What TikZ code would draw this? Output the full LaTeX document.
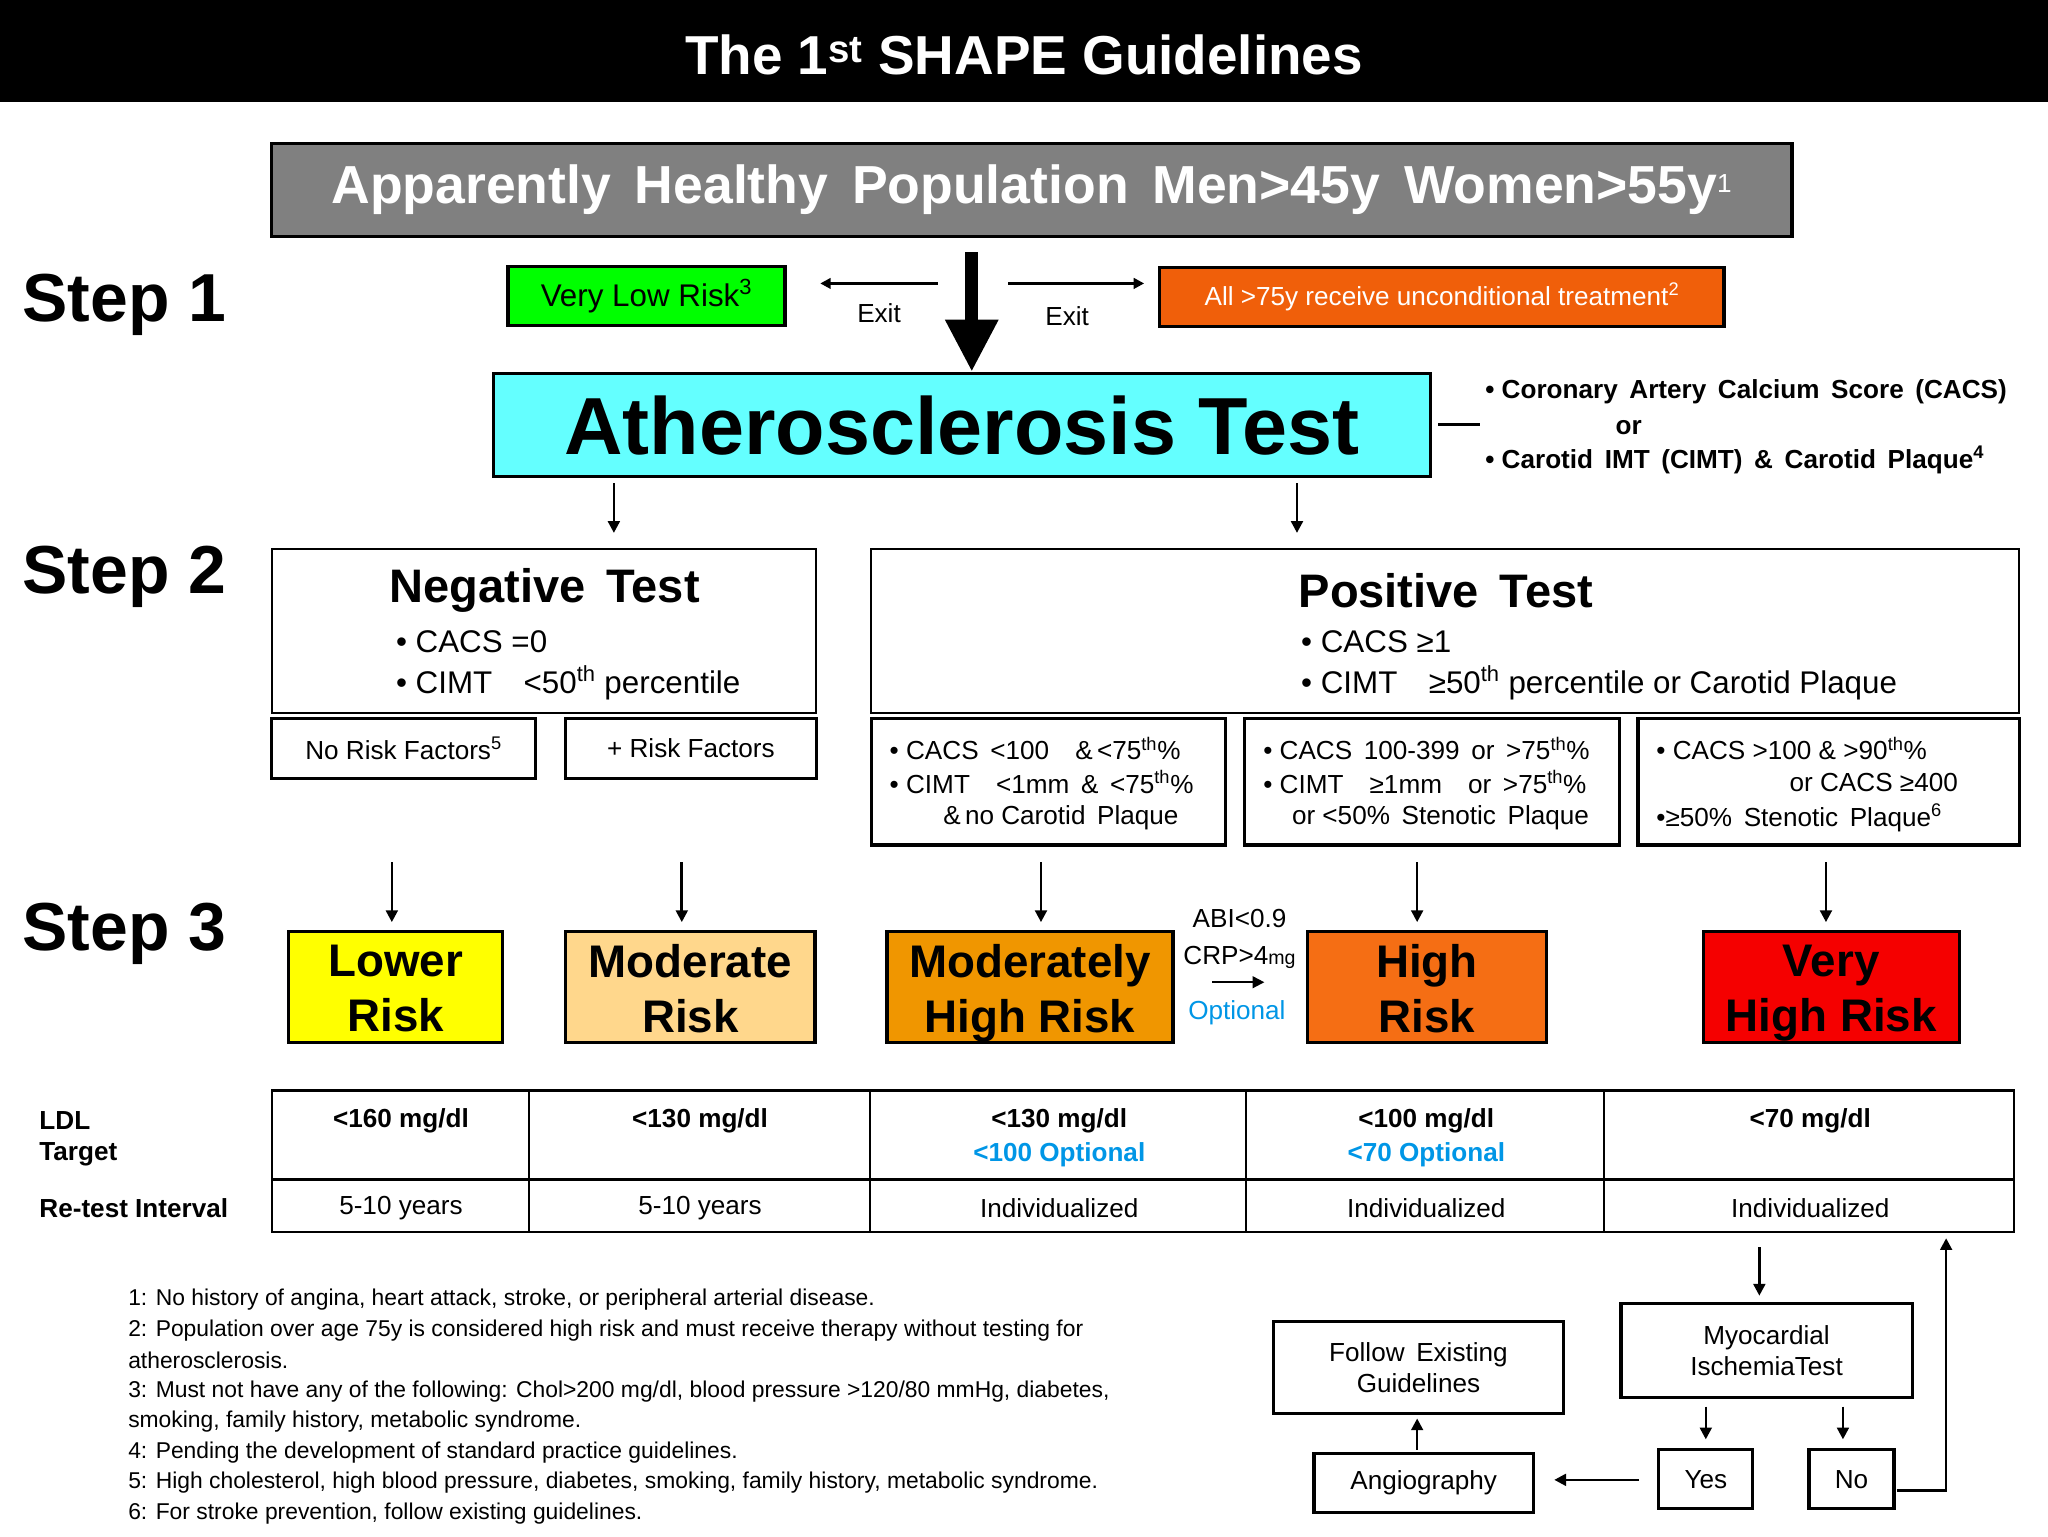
\documentclass[tikz,border=0pt]{standalone}
\usepackage{fontspec}
\setmainfont{Liberation Sans}
\usetikzlibrary{arrows.meta}
\newcommand\fs[1]{\fontsize{#1pt}{\dimexpr #1pt*12/10\relax}\selectfont}
\newcommand\mybox[6]{\node[#6,minimum width={(#4-#2)*1pt},minimum height={(#5-#3)*1pt}] (#1) at ({(#2+#4)/2},{(#3+#5)/2}) {};}
\definecolor{cy}{RGB}{100,255,255}
\definecolor{gr}{RGB}{0,255,0}
\definecolor{ora}{RGB}{240,95,10}
\definecolor{yel}{RGB}{255,255,0}
\definecolor{mod}{RGB}{255,215,140}
\definecolor{mhr}{RGB}{240,150,0}
\definecolor{hr}{RGB}{245,110,20}
\definecolor{vhr}{RGB}{245,0,0}
\definecolor{blu}{RGB}{0,150,230}
\begin{document}
\begin{tikzpicture}[x=1pt,y=-1pt,
  box/.style={draw,line width=2.5pt,inner sep=0pt},
  txt/.style={inner sep=0pt,font=\fs{20}},
  arr/.style={-{Triangle[length=9pt,width=9pt]},line width=2pt},
  lbl/.style={inner sep=0pt,anchor=west,font=\fs{20}}]
\useasboundingbox (0,0) rectangle (1568,1176);
\fill[black] (0,0) rectangle (1568,78);
\node[txt,text=white,font=\fs{42}\bfseries] (title) at (784,42) {The 1\textsuperscript{st} SHAPE Guidelines};
\mybox{pop}{208}{110}{1372}{181}{box,fill=gray}
\node[txt,text=white,font=\fs{41}\bfseries] at (pop) {Apparently\, Healthy\, Population\, Men>45y\, Women>55y\textsuperscript{\fs{20}\mdseries 1}};
\foreach \n/\y in {1/233,2/442,3/715}
  \node[txt,anchor=west,font=\fs{52}\bfseries] (step\n) at (17,\y) {Step \n};
\mybox{vlr}{389}{204}{601}{249}{box,fill=gr}
\node[txt,font=\fs{24}] at (vlr) {Very Low Risk\textsuperscript{3}};
\mybox{all}{888}{205}{1320}{250}{box,fill=ora}
\node[txt,text=white,font=\fs{20}] at (all) {All >75y receive unconditional treatment\textsuperscript{2}};
\coordinate (el1) at (718,217); \coordinate (el2) at (628,217);
\coordinate (er1) at (772,217); \coordinate (er2) at (876,217);
\draw[-{Triangle[length=8pt,width=8pt]},line width=2pt] (el1) -- (el2);
\draw[-{Triangle[length=8pt,width=8pt]},line width=2pt] (er1) -- (er2);
\node[txt] (exit1) at (673,240) {Exit};
\node[txt] (exit2) at (817,242) {Exit};
\mybox{ath}{378}{286}{1095}{365}{box,fill=cy}
\node[txt,font=\fs{62}\bfseries] at (ath) {Atherosclerosis Test};
\coordinate (dt) at (744,193);
\draw[-{Triangle[length=40pt,width=38pt]},line width=10pt] (dt) -- (ath.north -| dt);
\coordinate (lnr) at (1133,325);
\draw[line width=2pt] (ath.east |- lnr) ++(5,0) -- (lnr);
\node[lbl,font=\fs{20}\bfseries] (t1) at (1137,300) {• Coronary\, Artery\, Calcium\, Score\, (CACS)};
\node[txt,font=\fs{20}\bfseries] (t2) at (1247,327) {or};
\node[lbl,font=\fs{20}\bfseries] (t3) at (1137,352) {• Carotid\, IMT\, (CIMT)\, \&\, Carotid\, Plaque\textsuperscript{4}};
\mybox{neg}{208}{420}{625}{546}{draw,line width=1.5pt}
\mybox{pos}{667}{420}{1546}{546}{draw,line width=1.5pt}
\draw[arr] (470,370) -- (470,408);
\draw[arr] (993,370) -- (993,408);
\node[txt,font=\fs{36}\bfseries] (negt) at (417,452) {Negative\, Test};
\node[lbl,font=\fs{24}] at (303,491) {• CACS =0};
\node[lbl,font=\fs{24}] at (303,523) {• CIMT\quad<50\textsuperscript{th} percentile};
\node[txt,font=\fs{36}\bfseries] (post) at (1107,452) {Positive\, Test};
\node[lbl,font=\fs{24}] at (996,491) {• CACS ≥1};
\node[lbl,font=\fs{24}] at (996,523) {• CIMT\quad≥50\textsuperscript{th} percentile or Carotid Plaque};
\mybox{nrf}{208}{550}{410}{596}{box}
\node[txt] at (nrf) {No Risk Factors\textsuperscript{5}};
\mybox{prf}{433}{550}{625}{596}{box}
\node[txt] at (prf) {+ Risk Factors};
\mybox{c1}{667}{550}{938}{647}{box}
\mybox{c2}{953}{550}{1240}{647}{box}
\mybox{c3}{1254}{550}{1546}{647}{box}
\node[lbl] at (681,573) {• CACS\, <100\quad\&\,<75\textsuperscript{th}\%};
\node[lbl] at (681,599) {• CIMT\quad<1mm\, \&\, <75\textsuperscript{th}\%};
\node[lbl] at (722,626) {\&\,no Carotid\, Plaque};
\node[lbl] at (967,573) {• CACS\, 100-399\, or\, >75\textsuperscript{th}\%};
\node[lbl] at (967,599) {• CIMT\quad≥1mm\quad or\, >75\textsuperscript{th}\%};
\node[lbl] at (989,626) {or <50\%\, Stenotic\, Plaque};
\node[lbl] at (1268,573) {• CACS >100 \& >90\textsuperscript{th}\%};
\node[lbl] at (1370,599) {or CACS ≥400};
\node[lbl] at (1268,626) {•≥50\%\, Stenotic\, Plaque\textsuperscript{6}};
\mybox{lr}{221}{713}{385}{798}{box,fill=yel}
\mybox{mr}{433}{713}{624}{798}{box,fill=mod}
\mybox{mh}{679}{713}{898}{798}{box,fill=mhr}
\mybox{hh}{1001}{713}{1184}{798}{box,fill=hr}
\mybox{vh}{1304}{713}{1500}{798}{box,fill=vhr}
\foreach \b/\t in {lr/{Lower\\Risk},mr/{Moderate\\Risk},mh/{Moderately\\High Risk},hh/{High\\Risk},vh/{Very\\High Risk}}
  \node[txt,align=center,font=\fs{35}\bfseries,text depth=0pt] at ([yshift=-1pt]\b) {\t};
\foreach \x/\b in {300/lr,522/mr,797/mh,1085/hh,1398/vh}
  \draw[arr] (\x,660) -- (\x,706);
\node[txt] (abi) at (949,703) {ABI<0.9};
\node[txt] (crp) at (949,733) {CRP>4{\fs{15}mg}};
\draw[arr,line width=1.5pt] (928,752) -- (968,752);
\node[txt,text=blu] (opt) at (947,775) {Optional};
\draw[line width=1.8pt] (208,835) rectangle (1542,943);
\draw[line width=1.8pt] (208,903) -- (1542,903);
\foreach \x in {405,666,954,1228} \draw[line width=1.8pt] (\x,835) -- (\x,943);
\node[lbl,font=\fs{20}\bfseries] at (30,858) {LDL};
\node[lbl,font=\fs{20}\bfseries] at (30,884) {Target};
\node[lbl,font=\fs{20}\bfseries] at (30,925) {Re-test Interval};
\foreach \x/\a/\r in {307/{<160 mg/dl}/{5-10 years},536/{<130 mg/dl}/{5-10 years},811/{<130 mg/dl}/Individualized,1092/{<100 mg/dl}/Individualized,1386/{<70 mg/dl}/Individualized}{
  \node[txt,font=\fs{20}\bfseries] at (\x,858) {\a};
  \node[txt] at (\x,925) {\r};}
\node[txt,font=\fs{20}\bfseries,text=blu] at (811,884) {<100 Optional};
\node[txt,font=\fs{20}\bfseries,text=blu] at (1092,884) {<70 Optional};
\mybox{myo}{1241}{998}{1464}{1070}{box}
\node[txt,align=center] at (myo) {Myocardial\\IschemiaTest};
\mybox{fol}{975}{1012}{1197}{1082}{box}
\node[txt,align=center] at (fol) {Follow\, Existing\\Guidelines};
\mybox{yes}{1270}{1110}{1342}{1155}{box}
\node[txt] at (yes) {Yes};
\mybox{no}{1385}{1110}{1450}{1155}{box}
\node[txt] at (no) {No};
\mybox{ang}{1006}{1113}{1174}{1158}{box}
\node[txt] at (ang) {Angiography};
\coordinate (m0) at (1347,955); \coordinate (m1) at (1347,992);
\draw[arr] (m0) -- (m1);
\draw[arr] (1306,1077) -- (1306,1102);
\draw[arr] (1411,1077) -- (1411,1102);
\draw[arr] (1255,1133) -- (1190,1133);
\coordinate (a0) at (1085,1110); \coordinate (a1) at (1085,1086);
\draw[arr] (a0) -- (a1);
\draw[arr] (1452,1141) -- (1490,1141) -- (1490,948);
\foreach \i/\t in {0/{1: No history of angina, heart attack, stroke, or peripheral arterial disease.},
 1/{2: Population over age 75y is considered high risk and must receive therapy without testing for},
 2/{atherosclerosis.},
 3/{3: Must not have any of the following: Chol>200 mg/dl, blood pressure >120/80 mmHg, diabetes,},
 4/{smoking, family history, metabolic syndrome.},
 5/{4: Pending the development of standard practice guidelines.},
 6/{5: High cholesterol, high blood pressure, diabetes, smoking, family history, metabolic syndrome.},
 7/{6: For stroke prevention, follow existing guidelines.}}
  \node[lbl,font=\fs{17.5}] at (98,{995+23.4*\i}) {\t};
\end{tikzpicture}
\end{document}
